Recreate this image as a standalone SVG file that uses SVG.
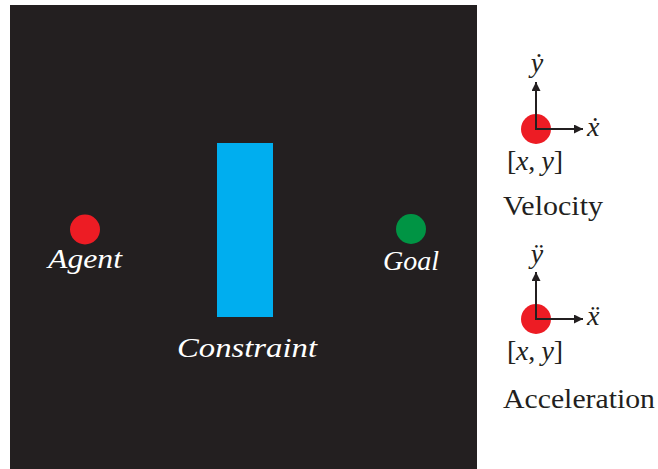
<svg xmlns="http://www.w3.org/2000/svg" width="658" height="469" viewBox="0 0 658 469">
<style>
.lbl{font-family:"Liberation Serif","Times New Roman",serif;font-style:italic;font-size:28px;fill:#ffffff;text-anchor:middle}
.math{font-family:"Liberation Serif","Times New Roman",serif;font-style:italic;font-size:28px;fill:#231f20}
.up{font-style:normal}
.rm{font-family:"Liberation Serif","Times New Roman",serif;font-size:28px;fill:#231f20}
.ax{stroke:#231f20;stroke-width:2;fill:none}
</style>
<defs>
<marker id="ah" viewBox="0 0 10 10" refX="10" refY="5" markerWidth="12" markerHeight="9" markerUnits="userSpaceOnUse" orient="auto">
<path d="M0,0 L10,5 L0,10 Z" fill="#231f20"/>
</marker>
</defs>
<g id="field">
<rect x="10" y="5" width="467" height="464" fill="#231f20"/>
</g>
<g id="agent">
<circle cx="85" cy="229.5" r="15" fill="#ed1c24"/>
<text class="lbl" x="85" y="268" textLength="74" lengthAdjust="spacingAndGlyphs">Agent</text>
</g>
<g id="constraint">
<rect x="217" y="143" width="56" height="174" fill="#00aeef"/>
<text class="lbl" x="247" y="357" textLength="140" lengthAdjust="spacingAndGlyphs">Constraint</text>
</g>
<g id="goal">
<circle cx="411" cy="229" r="15" fill="#009444"/>
<text class="lbl" x="411" y="270" textLength="56" lengthAdjust="spacingAndGlyphs">Goal</text>
</g>
<g id="velocity">
<circle cx="536" cy="129" r="15" fill="#ed1c24"/>
<text class="math" x="537" y="72" text-anchor="middle">ẏ</text>
<text class="math" x="587" y="136">ẋ</text>
<text class="math" x="507" y="170" textLength="56" lengthAdjust="spacing"><tspan class="up">[</tspan>x<tspan class="up">, </tspan>y<tspan class="up">]</tspan></text>
<text class="rm" x="503" y="215" textLength="100" lengthAdjust="spacingAndGlyphs">Velocity</text>
</g>
<g id="acceleration">
<circle cx="536" cy="319" r="15" fill="#ed1c24"/>
<text class="math" x="537" y="263" text-anchor="middle">ÿ</text>
<text class="math" x="587" y="325">ẍ</text>
<text class="math" x="507" y="360" textLength="56" lengthAdjust="spacing"><tspan class="up">[</tspan>x<tspan class="up">, </tspan>y<tspan class="up">]</tspan></text>
<text class="rm" x="503" y="408" textLength="152" lengthAdjust="spacingAndGlyphs">Acceleration</text>
</g>
<g id="connectors">
<line class="ax" x1="536" y1="130" x2="536" y2="82" marker-end="url(#ah)"/>
<line class="ax" x1="535" y1="129" x2="583" y2="129" marker-end="url(#ah)"/>
<line class="ax" x1="536" y1="320" x2="536" y2="272" marker-end="url(#ah)"/>
<line class="ax" x1="535" y1="319" x2="583" y2="319" marker-end="url(#ah)"/>
</g>
</svg>
